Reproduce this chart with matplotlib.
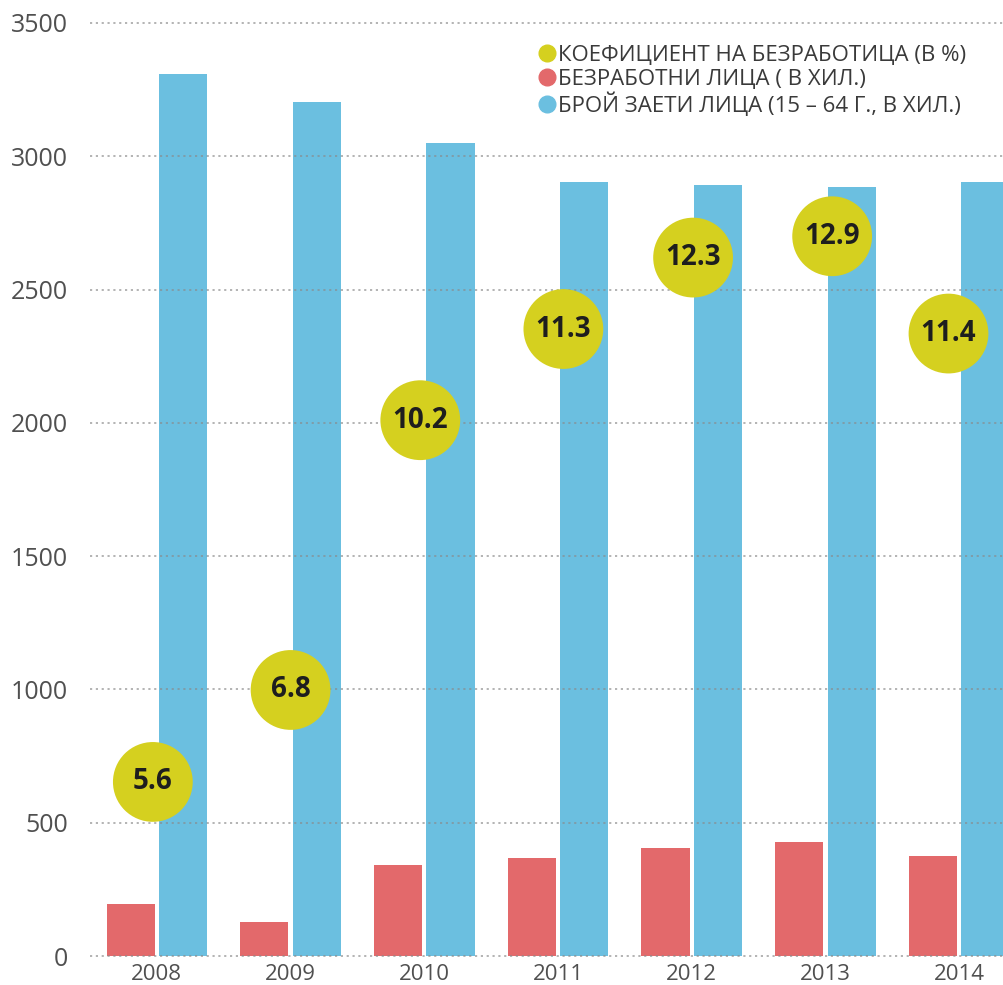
import numpy as np
import matplotlib.pyplot as plt
from matplotlib.lines import Line2D

plt.rcParams['font.family'] = ['Open Sans', 'DejaVu Sans']

years = ['2008', '2009', '2010', '2011', '2012', '2013', '2014']
unemployed = [194, 128, 341, 368, 406, 429, 376]           # безработни лица, хил.
employed = [3308, 3202, 3050, 2904, 2894, 2886, 2904]      # заети лица 15-64 г., хил.
rate = [5.6, 6.8, 10.2, 11.3, 12.3, 12.9, 11.4]            # коефициент на безработица, %
# the bubbles are placed by hand in the original, not on a scale
rate_bubble_y = [653, 998, 2010, 2352, 2620, 2700, 2335]
rate_bubble_dx = [-0.03, 0.0, -0.03, 0.04, 0.01, 0.05, -0.08]

labels = ['КОЕФИЦИЕНТ НА БЕЗРАБОТИЦА (В %)',
          'БЕЗРАБОТНИ ЛИЦА ( В ХИЛ.)',
          'БРОЙ ЗАЕТИ ЛИЦА (15 – 64 Г., В ХИЛ.)']

c_yellow = '#d5d01f'
c_red = '#e3696b'
c_blue = '#6bbfe0'
c_text = '#505050'

fig = plt.figure(figsize=(10.04, 9.85), dpi=100)
ax = fig.add_axes([90 / 1004, 29 / 985, 914 / 1004, 933 / 985])

x = np.arange(len(years))
w = 0.36
off = 0.196
ax.bar(x - off, unemployed, w, color=c_red, zorder=1)
ax.bar(x + off, employed, w, color=c_blue, zorder=1)

# dotted grid on top of the bars
for v in range(0, 3501, 500):
    ax.axhline(v, color='#8a8a8a', lw=1.2, ls=(0, (1.3, 2.2)), alpha=0.75,
               zorder=2, clip_on=False)

bx = x + np.array(rate_bubble_dx)
ax.scatter(bx, rate_bubble_y, s=3300, color=c_yellow, zorder=3,
           edgecolors='none', clip_on=False)
for xi, yi, r in zip(bx, rate_bubble_y, rate):
    ax.text(xi, yi, '{:.1f}'.format(r), ha='center', va='center',
            fontsize=20, fontweight='bold', color='#1e1e1e', zorder=4)

ax.set_xlim(-0.5, 6.335)
ax.set_ylim(0, 3500)
ax.set_yticks(range(0, 3501, 500))
ax.set_xticks(x)
ax.set_xticklabels(years)
ax.tick_params(axis='y', length=0, pad=16, labelsize=18, labelcolor=c_text)
ax.tick_params(axis='x', length=0, pad=6, labelsize=16, labelcolor=c_text)
for s in ax.spines.values():
    s.set_visible(False)

handles = [Line2D([], [], marker='o', ls='', color=c, markersize=12)
           for c in (c_yellow, c_red, c_blue)]
ax.legend(handles, labels, loc='upper left',
          bbox_to_anchor=(525 / 1004, 1 - 34 / 985),
          bbox_transform=fig.transFigure, frameon=False, borderpad=0,
          handletextpad=0.0, handlelength=1.0, labelspacing=0.12,
          fontsize=16, labelcolor='#3a3a3a')

plt.savefig('out.png', dpi=100)
